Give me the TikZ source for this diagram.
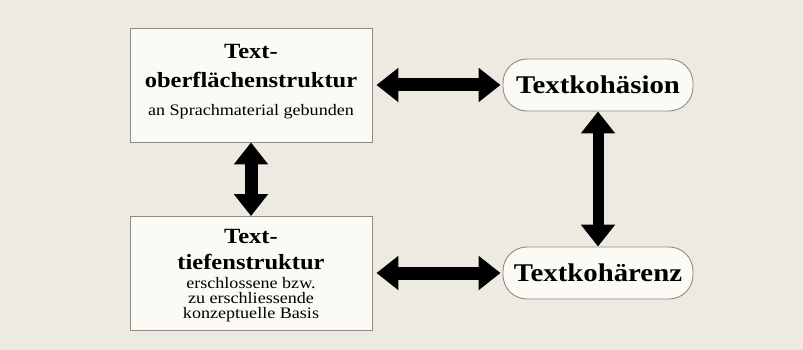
\documentclass[tikz,border=0pt]{standalone}
\usepackage{fontspec}
\setmainfont[FakeStretch=1.13]{Liberation Serif}
\usetikzlibrary{arrows.meta}
\definecolor{bgc}{HTML}{EDEBE1}
\definecolor{boxfill}{HTML}{FBFAF5}
\definecolor{edgec}{HTML}{8C8B85}
\tikzset{
  box/.style={draw=edgec, line width=0.9pt, fill=boxfill, minimum width=242pt, minimum height=114pt, inner sep=0pt},
  oval/.style={draw=edgec, line width=0.9pt, fill=boxfill, rounded corners=24pt, minimum width=190pt, minimum height=52pt, inner sep=0pt},
  head/.style={font=\bfseries\fontsize{21.7}{24}\selectfont, inner sep=0pt},
  ovaltext/.style={font=\bfseries\fontsize{25.5}{28}\selectfont, inner sep=0pt},
  small/.style={font=\fontsize{16}{15}\selectfont, inner sep=0pt, align=center},
  bigarrow/.style={line width=13pt, {Triangle[length=22pt,width=33pt]}-{Triangle[length=22pt,width=33pt]}}
}
\begin{document}
\begin{tikzpicture}[x=1pt,y=-1pt]
\fill[bgc] (0,0) rectangle (803,350);
\useasboundingbox (0,0) rectangle (803,350);
% boxes
\node[box] (top) at (251,85) {};
\node[box] (bot) at (251,273.5) {};
\node[oval] (koh) at (598,85) {};
\node[oval] (kor) at (598,273) {};
% texts
\node[head] (t1) at (251,52) {Text-};
\node[head] (t2) at (251,80) {oberflächenstruktur};
\node[small] (t3) at (251,112) {an Sprachmaterial gebunden};
\node[head] (b1) at (251,237) {Text-};
\node[head] (b2) at (251,262) {tiefenstruktur};
\node[small] (b3) at (251,300) {erschlossene bzw.\\zu erschliessende\\konzeptuelle Basis};
\node[ovaltext] (k1) at (598,85) {Textkohäsion};
\node[ovaltext] (k2) at (598,273) {Textkohärenz};
% arrows
\draw[bigarrow, shorten <=4pt, shorten >=2pt] (top.east) -- (koh.west);
\draw[bigarrow, shorten <=4pt, shorten >=2pt] (bot.east |- kor.west) -- (kor.west);
\draw[bigarrow] (top.south) -- (bot.north);
\draw[bigarrow, line width=11pt] (koh.south) -- (kor.north);
\end{tikzpicture}
\end{document}
